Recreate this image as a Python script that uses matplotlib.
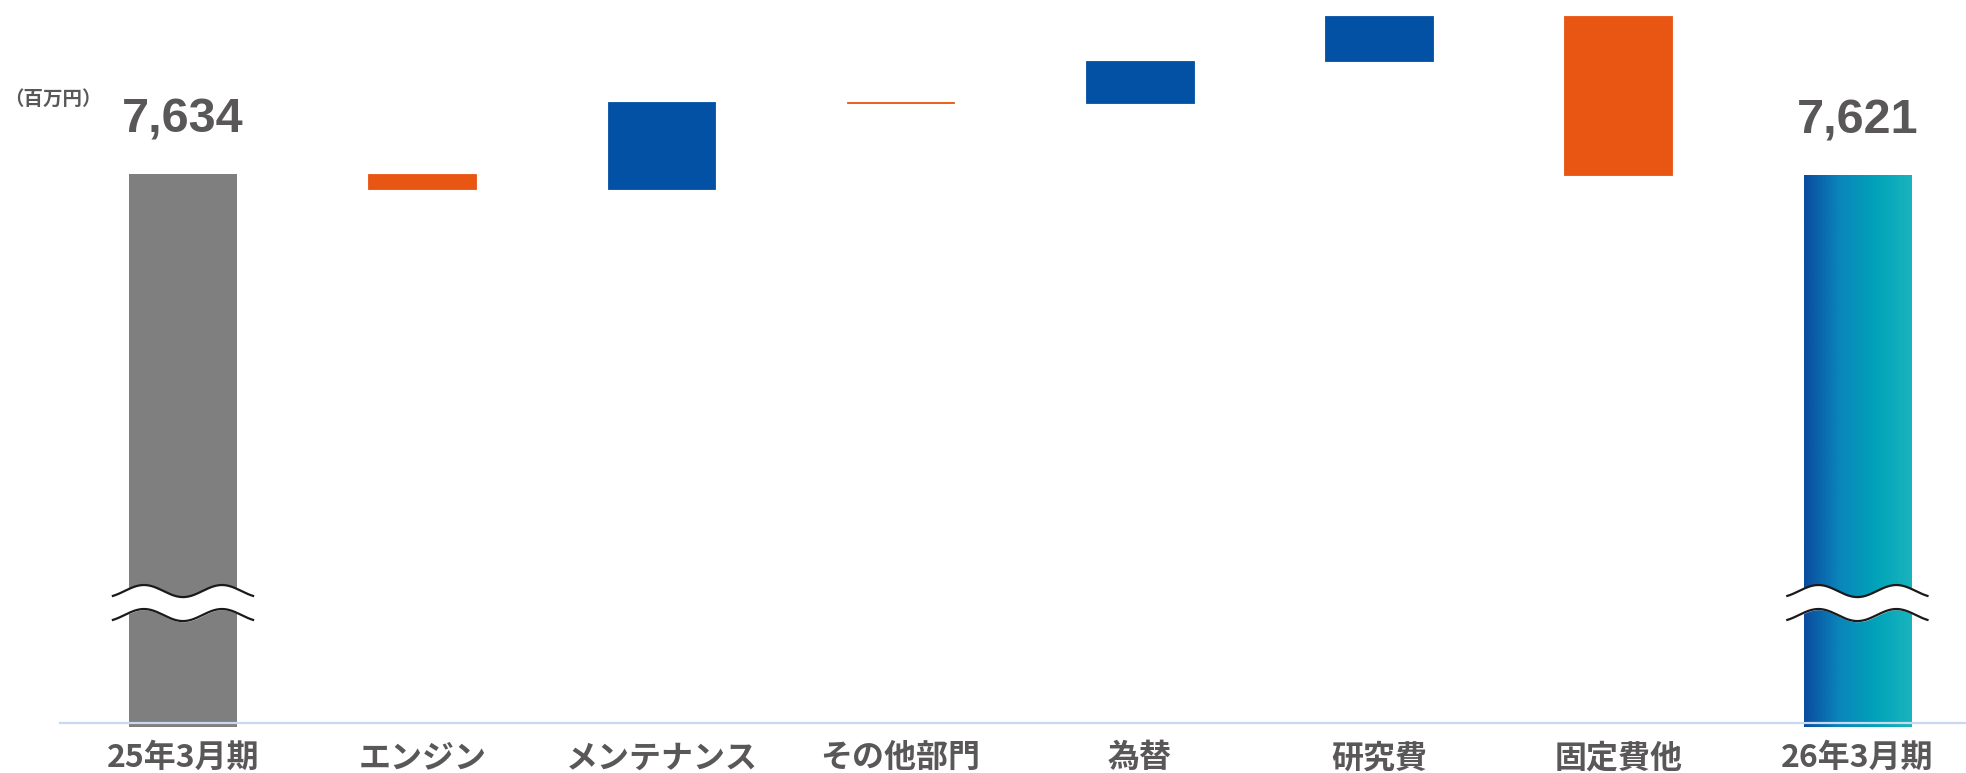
import numpy as np
import matplotlib
matplotlib.use('Agg')
from matplotlib import pyplot as plt
from matplotlib import transforms
from matplotlib.colors import LinearSegmentedColormap

plt.rcParams['font.family'] = ['Noto Sans CJK JP', 'DejaVu Sans']

categories = ['25年3月期', 'エンジン', 'メンテナンス', 'その他部門', '為替', '研究費', '固定費他', '26年3月期']
start_value = 7634
end_value = 7621
deltas = [-150, 870, -8, 420, 450, -1595]

# axis is broken: bottom of the plot is not zero
y_bottom = 2104
y_top = 9374
baseline = 2144

GRAY = '#7f7f7f'
BLUE = '#0351a5'
ORANGE = '#e95513'
TEXT = '#595757'

fig = plt.figure(figsize=(19.66, 7.73), dpi=100)
ax = fig.add_axes([0, 1 - 727 / 773, 1, 727 / 773])

x = np.arange(len(categories))
width = 0.45

# start bar
ax.bar(x[0], start_value - y_bottom, bottom=y_bottom, width=width, color=GRAY, zorder=2)

# change bars
level = start_value
for i, d in enumerate(deltas):
    c = BLUE if d > 0 else ORANGE
    lo = min(level, level + d)
    ax.bar(x[i + 1], abs(d), bottom=lo, width=width, color=c, edgecolor=c,
           linewidth=0.6, zorder=2)
    level += d

# end bar with a horizontal blue -> teal gradient
grad = LinearSegmentedColormap.from_list('g', ['#0a4c9e', '#0a86bb', '#00a3b9', '#1ab4bd'])
xe = x[-1]
ax.imshow(np.linspace(0, 1, 256).reshape(1, -1), cmap=grad, aspect='auto',
          extent=[xe - width / 2, xe + width / 2, y_bottom, end_value], zorder=2)

# value labels
for xi, v in [(x[0], start_value), (x[-1], end_value)]:
    ax.annotate(f'{v:,}', (xi, v), xytext=(0, 30), textcoords='offset points',
                ha='center', va='baseline', fontsize=35, fontweight='bold',
                color=TEXT, family=['Liberation Sans', 'DejaVu Sans'])

# baseline rule
ax.axhline(baseline, xmin=0.25 / 8.22, xmax=1, color='#c9daf0', lw=1.6, zorder=3)

# wavy break marks on the first and last bars
blend = transforms.blended_transform_factory(ax.transData, ax.transAxes)
def draw_break(xc):
    xs = np.linspace(xc - 0.293, xc + 0.293, 200)
    wave = 0.0083 * np.cos(2 * np.pi * (xs - xc) / 0.326)
    upper = 0.187 - wave
    lower = 0.154 - wave
    ax.fill_between(xs, lower, upper, color='white', transform=blend, zorder=4)
    ax.plot(xs, upper, color='#1a1a1a', lw=1.6, transform=blend, zorder=5)
    ax.plot(xs, lower, color='#1a1a1a', lw=1.6, transform=blend, zorder=5)

draw_break(x[0])
draw_break(x[-1])

ax.set_xlim(-0.765, 7.454)
ax.set_ylim(y_bottom, y_top)
ax.set_xticks(x)
ax.set_xticklabels(categories, fontsize=23, fontweight='bold', color=TEXT)
ax.tick_params(axis='x', length=0, pad=11)
ax.set_yticks([])
for s in ax.spines.values():
    s.set_visible(False)

fig.text(4 / 1966, 1 - 99 / 773, '（百万円）', fontsize=14, fontweight='bold',
         color=TEXT, va='center', ha='left')

fig.savefig('out.png', dpi=100)
